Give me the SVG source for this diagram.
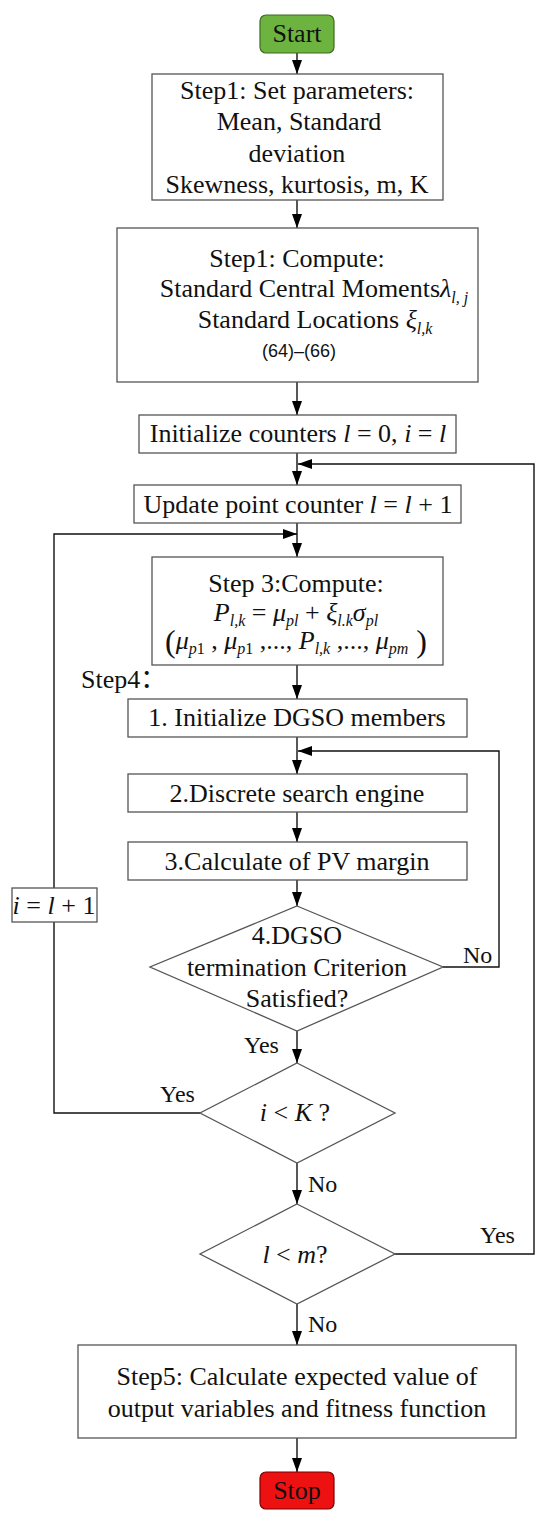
<svg xmlns="http://www.w3.org/2000/svg" width="550" height="1524" viewBox="0 0 550 1524">
<style>
.box{fill:#fff;stroke:#555;stroke-width:1.3}
.t{font-family:"Liberation Serif","Times New Roman",serif;font-size:26px;fill:#111;text-anchor:middle}
.lab{font-family:"Liberation Serif","Times New Roman",serif;font-size:24px;fill:#111}
.i{font-style:italic}
.sub{font-size:16px;font-style:italic}
.sans{font-family:"Liberation Sans",Arial,sans-serif;font-size:18px;fill:#111;text-anchor:middle}
.ln{fill:none;stroke:#111;stroke-width:1.4}
</style>
<defs>
<marker id="ah" markerUnits="userSpaceOnUse" markerWidth="14" markerHeight="10" refX="14" refY="5" orient="auto">
<path d="M0,0 L14,5 L0,10 z" fill="#000"/>
</marker>
</defs>
<rect width="550" height="1524" fill="#fff"/>

<g id="connectors">
<line class="ln" x1="297" y1="53" x2="297" y2="74" marker-end="url(#ah)"/>
<line class="ln" x1="297" y1="200" x2="297" y2="228" marker-end="url(#ah)"/>
<line class="ln" x1="297" y1="382" x2="297" y2="415" marker-end="url(#ah)"/>
<line class="ln" x1="297" y1="453" x2="297" y2="485" marker-end="url(#ah)"/>
<line class="ln" x1="297" y1="523" x2="297" y2="557" marker-end="url(#ah)"/>
<line class="ln" x1="297" y1="665" x2="297" y2="699" marker-end="url(#ah)"/>
<line class="ln" x1="297" y1="737" x2="297" y2="774" marker-end="url(#ah)"/>
<line class="ln" x1="297" y1="812" x2="297" y2="842" marker-end="url(#ah)"/>
<line class="ln" x1="297" y1="880" x2="297" y2="906" marker-end="url(#ah)"/>
<line class="ln" x1="297" y1="1031" x2="297" y2="1063" marker-end="url(#ah)"/>
<line class="ln" x1="297" y1="1163" x2="297" y2="1204" marker-end="url(#ah)"/>
<line class="ln" x1="297" y1="1304" x2="297" y2="1345" marker-end="url(#ah)"/>
<line class="ln" x1="297" y1="1438" x2="297" y2="1472" marker-end="url(#ah)"/>
<polyline class="ln" points="443,967 499,967 499,751 298,751" marker-end="url(#ah)"/>
<polyline class="ln" points="200,1113 54,1113 54,534 297,534" marker-end="url(#ah)"/>
<polyline class="ln" points="395,1254 534,1254 534,464 298,464" marker-end="url(#ah)"/>
<text class="lab" x="463" y="963">No</text>
<text class="lab" x="244" y="1053">Yes</text>
<text class="lab" x="160" y="1102">Yes</text>
<text class="lab" x="308" y="1192">No</text>
<text class="lab" x="480" y="1243">Yes</text>
<text class="lab" x="308" y="1332">No</text>
</g>

<g id="start">
<rect x="260" y="15" width="74" height="38" rx="6" fill="#6db33f" stroke="#3d6b1e" stroke-width="1.2"/>
<text class="t" x="297" y="42">Start</text>
</g>

<g id="step1-set">
<rect class="box" x="152" y="74" width="291" height="126"/>
<text class="t" x="297" y="99">Step1: Set parameters:</text>
<text class="t" x="299" y="130">Mean, Standard</text>
<text class="t" x="297" y="162">deviation</text>
<text class="t" x="297" y="193">Skewness, kurtosis, m, K</text>
</g>

<g id="step1-compute">
<rect class="box" x="117" y="228" width="361" height="154"/>
<text class="t" x="297" y="267">Step1: Compute:</text>
<text class="t" x="314" y="297">Standard Central Moments<tspan class="i">λ</tspan><tspan class="sub" dy="6">l, j</tspan></text>
<text class="t" x="315" y="328">Standard Locations <tspan class="i">ξ</tspan><tspan class="sub" dy="6">l,k</tspan></text>
<text class="sans" x="299" y="357">(64)–(66)</text>
</g>

<g id="init-counters">
<rect class="box" x="139" y="415" width="317" height="38"/>
<text class="t" x="298" y="442">Initialize counters <tspan class="i">l</tspan> = 0, <tspan class="i">i</tspan> = <tspan class="i">l</tspan></text>
</g>

<g id="update-counter">
<rect class="box" x="134" y="485" width="327" height="38"/>
<text class="t" x="298" y="513">Update point counter <tspan class="i">l</tspan> = <tspan class="i">l</tspan> + 1</text>
</g>

<g id="step3">
<rect class="box" x="152" y="557" width="291" height="108"/>
<text class="t" x="296" y="592">Step 3:Compute:</text>
<text class="t" x="296" y="621"><tspan class="i">P</tspan><tspan class="sub" dy="5">l,k</tspan><tspan dy="-5"> = </tspan><tspan class="i">μ</tspan><tspan class="sub" dy="5">pl</tspan><tspan dy="-5"> + </tspan><tspan class="i">ξ</tspan><tspan class="sub" dy="5">l.k</tspan><tspan class="i" dy="-5">σ</tspan><tspan class="sub" dy="5">pl</tspan></text>
<text class="t" x="296" y="649"><tspan font-size="32" dy="3">(</tspan><tspan class="i" dy="-3">μ</tspan><tspan class="sub" dy="5">p<tspan font-style="normal">1</tspan></tspan><tspan dy="-5"> , </tspan><tspan class="i">μ</tspan><tspan class="sub" dy="5">p<tspan font-style="normal">1</tspan></tspan><tspan dy="-5"> ,..., </tspan><tspan class="i">P</tspan><tspan class="sub" dy="5">l,k</tspan><tspan dy="-5"> ,..., </tspan><tspan class="i">μ</tspan><tspan class="sub" dy="5">pm</tspan><tspan font-size="32" dy="-2"> )</tspan></text>
</g>

<g id="step4-label">
<text class="lab" x="81" y="688" style="font-size:26px;font-family:'Liberation Serif','Noto Sans CJK SC',serif">Step4：</text>
</g>

<g id="init-dgso">
<rect class="box" x="128" y="699" width="339" height="38"/>
<text class="t" x="297" y="726">1. Initialize DGSO members</text>
</g>

<g id="discrete-search">
<rect class="box" x="128" y="774" width="339" height="38"/>
<text class="t" x="297" y="802">2.Discrete search engine</text>
</g>

<g id="pv-margin">
<rect class="box" x="128" y="842" width="339" height="38"/>
<text class="t" x="297" y="870">3.Calculate of PV margin</text>
</g>

<g id="dgso-criterion">
<polygon class="box" points="297,906 443,967 297,1031 150,967"/>
<text class="t" x="297" y="944">4.DGSO</text>
<text class="t" x="297" y="976">termination Criterion</text>
<text class="t" x="297" y="1007">Satisfied?</text>
</g>

<g id="i-update">
<rect class="box" x="12" y="888" width="85" height="34"/>
<text class="t" x="54" y="914"><tspan class="i">i</tspan> = <tspan class="i">l</tspan> + 1</text>
</g>

<g id="i-less-K">
<polygon class="box" points="297,1063 395,1113 297,1163 200,1113"/>
<text class="t" x="295" y="1121"><tspan class="i">i</tspan> &lt; <tspan class="i">K</tspan> ?</text>
</g>

<g id="l-less-m">
<polygon class="box" points="297,1204 395,1254 297,1304 200,1254"/>
<text class="t" x="295" y="1263"><tspan class="i">l</tspan> &lt; <tspan class="i">m</tspan>?</text>
</g>

<g id="step5">
<rect class="box" x="78" y="1345" width="438" height="93"/>
<text class="t" x="297" y="1385">Step5: Calculate expected value of</text>
<text class="t" x="297" y="1417">output variables and fitness function</text>
</g>

<g id="stop">
<rect x="260" y="1472" width="74" height="37" rx="6" fill="#ee1111" stroke="#7a0000" stroke-width="1.2"/>
<text class="t" x="297" y="1499">Stop</text>
</g>
</svg>
